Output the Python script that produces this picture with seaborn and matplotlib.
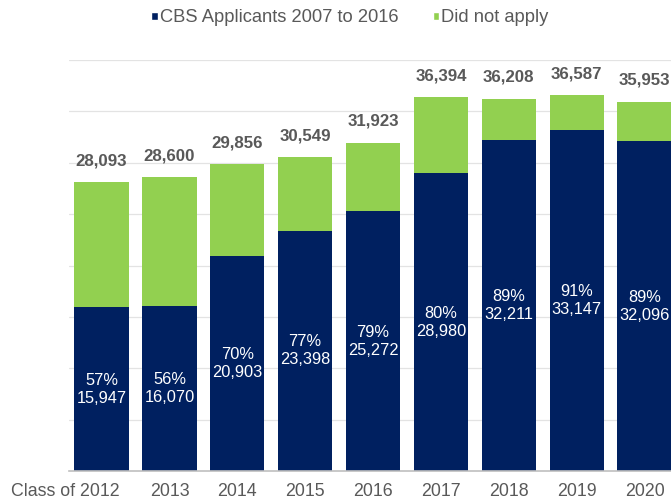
import seaborn as sns
import matplotlib.pyplot as plt
import matplotlib.transforms as mtransforms
import pandas as pd
from matplotlib.patches import Patch

# Data
classes = ['Class of 2012', '2013', '2014', '2015', '2016', '2017', '2018', '2019', '2020']
totals = [28093, 28600, 29856, 30549, 31923, 36394, 36208, 36587, 35953]
applicants = [15947, 16070, 20903, 23398, 25272, 28980, 32211, 33147, 32096]

navy = '#002060'
green = '#92D050'
grey_text = '#595959'

df = pd.DataFrame({'cls': classes, 'total': totals, 'applied': applicants})

sns.set_theme(style='white')
plt.rcParams['font.family'] = ['Liberation Sans', 'DejaVu Sans']

fig = plt.figure(figsize=(6.71, 5.04), dpi=100)
ax = fig.add_axes([69 / 671, 33 / 504, 1 - 69 / 671, 411 / 504])

# full bar in green, navy part drawn on top -> stacked look
sns.barplot(data=df, x='cls', y='total', order=classes, color=green,
            saturation=1, width=0.8, linewidth=0, ax=ax)
sns.barplot(data=df, x='cls', y='applied', order=classes, color=navy,
            saturation=1, width=0.8, linewidth=0, ax=ax)

ax.set_ylim(0, 40000)
ax.set_xlim(-0.48, 8.39)
ax.set_yticks(range(0, 40001, 5000))
ax.set_yticklabels([])
ax.tick_params(axis='y', length=0)
ax.tick_params(axis='x', length=0, pad=9, labelsize=12.8, labelcolor=grey_text)
ax.yaxis.grid(True, color='#e3e3e3', linewidth=0.9)
ax.set_axisbelow(True)
ax.set_xlabel('')
ax.set_ylabel('')
for s in ['top', 'right', 'left']:
    ax.spines[s].set_visible(False)
ax.spines['bottom'].set_color('#bfbfbf')
ax.spines['bottom'].set_linewidth(1.2)

# first label is pushed left so it doesn't run into "2013"
first = ax.get_xticklabels()[0]
first.set_transform(first.get_transform() +
                    mtransforms.ScaledTranslation(-0.36, 0, fig.dpi_scale_trans))

# total labels above bars
for i, t in enumerate(totals):
    ax.annotate(f'{t:,}', (i, t), xytext=(0, 15.5), textcoords='offset points',
                ha='center', va='center', fontsize=12.2, fontweight='bold',
                color=grey_text, clip_on=False, annotation_clip=False)

# percentage + applicant count inside navy part
for i, (t, a) in enumerate(zip(totals, applicants)):
    ax.text(i, a / 2, f'{round(a / t * 100)}%\n{a:,}', ha='center', va='center',
            fontsize=11.8, color='white', linespacing=1.25)

handles = [Patch(facecolor=navy, label='CBS Applicants 2007 to 2016'),
           Patch(facecolor=green, label='Did not apply')]
fig.legend(handles=handles, loc='center', bbox_to_anchor=(350 / 671, 1 - 18 / 504),
           ncol=2, frameon=False, fontsize=13.2, handlelength=0.35, handleheight=0.35,
           handletextpad=0.1, columnspacing=1.9, labelcolor=grey_text)

fig.savefig('out.png', dpi=100)
